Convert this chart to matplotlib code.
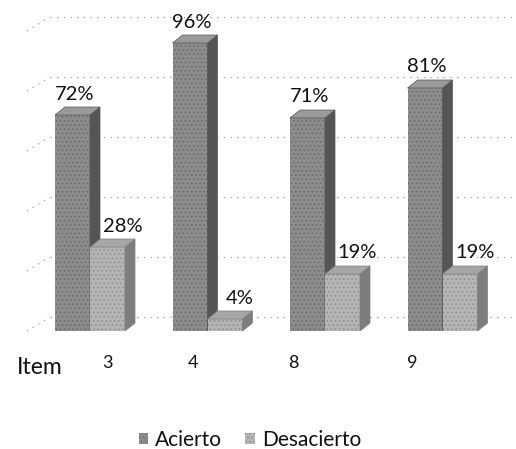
import matplotlib
matplotlib.use("Agg")
import matplotlib.pyplot as plt
from matplotlib.patches import Polygon, Patch

# ---- data ----
items = ["3", "4", "8", "9"]
acierto = [72, 96, 71, 81]
desacierto = [28, 4, 19, 19]
series_names = ["Acierto", "Desacierto"]

plt.rcParams["font.family"] = ["Lato", "DejaVu Sans"]
plt.rcParams["hatch.linewidth"] = 0.6

W, H = 516, 449
fig = plt.figure(figsize=(W / 100, H / 100), dpi=100)

# axes: value 0 sits on the front floor edge, 100 % spans 300 px
PX_X = 117.5          # pixels per category step
PX_Y = 3.0            # pixels per percent
x_left_px = 90        # pixel column of the first group's centre
ax = fig.add_axes([0, 118 / H, 1, 300 / H])
ax.set_xlim(-x_left_px / PX_X, (W - x_left_px) / PX_X)
ax.set_ylim(0, 100)
ax.axis("off")

# 3-D look: bar depth and back-wall offset, in data units
bar_w = 35 / PX_X
DX, DY = 10 / PX_X, 8 / PX_Y
WALL_DY = 14 / PX_Y
wall_left = -40 / PX_X
wall_front = -63 / PX_X

# dotted back-wall and side-wall gridlines
grid_kw = dict(color="#8a8a8a", lw=0.8, ls=(0, (1, 5)), zorder=0, clip_on=False)
for g in range(0, 101, 20):
    ax.plot([wall_left, ax.get_xlim()[1]], [g + WALL_DY, g + WALL_DY], **grid_kw)
    ax.plot([wall_front, wall_left], [g, g + WALL_DY], **grid_kw)

styles = {
    "Acierto": dict(front="#8c8c8c", side="#555555", top="#9a9a9a", hatch="#6a6a6a"),
    "Desacierto": dict(front="#b4b4b4", side="#7d7d7d", top="#a6a6a6", hatch="#8e8e8e"),
}


def draw_bar(x0, h, st, z):
    ax.bar(x0, h, width=bar_w, align="edge", color=st["front"],
           edgecolor=st["hatch"], lw=0, hatch="....", zorder=z)
    x1 = x0 + bar_w
    side = Polygon([(x1, 0), (x1 + DX, DY), (x1 + DX, h + DY), (x1, h)],
                   closed=True, facecolor=st["side"], edgecolor=st["side"],
                   lw=0.5, zorder=z)
    top = Polygon([(x0, h), (x1, h), (x1 + DX, h + DY), (x0 + DX, h + DY)],
                  closed=True, facecolor=st["top"], edgecolor=st["side"],
                  lw=0.5, zorder=z)
    ax.add_patch(side)
    ax.add_patch(top)


for i, (a, d) in enumerate(zip(acierto, desacierto)):
    z = 2 + 2 * i
    draw_bar(i - bar_w, a, styles["Acierto"], z)
    draw_bar(i, d, styles["Desacierto"], z + 1)
    ax.annotate(f"{a}%", (i - bar_w / 2, a), xytext=(2, 21),
                textcoords="offset pixels", ha="center", va="center",
                fontsize=14.5, color="#111111", zorder=20)
    ax.annotate(f"{d}%", (i + bar_w / 2, d), xytext=(15, 21),
                textcoords="offset pixels", ha="center", va="center",
                fontsize=14.5, color="#111111", zorder=20)

# category labels along the floor
tick_pos = [0.145, 0.877, 1.732, 2.74]
for p, lab in zip(tick_pos, items):
    ax.annotate(lab, (p, 0), xytext=(0, -32), textcoords="offset pixels",
                ha="center", va="center", fontsize=13, color="#111111")
fig.text(40 / W, 1 - 368 / H, "Item", ha="center", va="center",
         fontsize=16.5, color="#111111")

handles = [Patch(facecolor=styles[n]["front"], edgecolor=styles[n]["hatch"],
                 lw=0, hatch="....", label=n) for n in series_names]
fig.legend(handles=handles, loc="center", bbox_to_anchor=(250 / W, 1 - 440 / H),
           ncol=2, frameon=False, fontsize=15, handlelength=0.45,
           handleheight=0.45, handletextpad=0.35, columnspacing=1.1,
           labelcolor="#111111")

fig.savefig("out.png", dpi=100, facecolor="white")
